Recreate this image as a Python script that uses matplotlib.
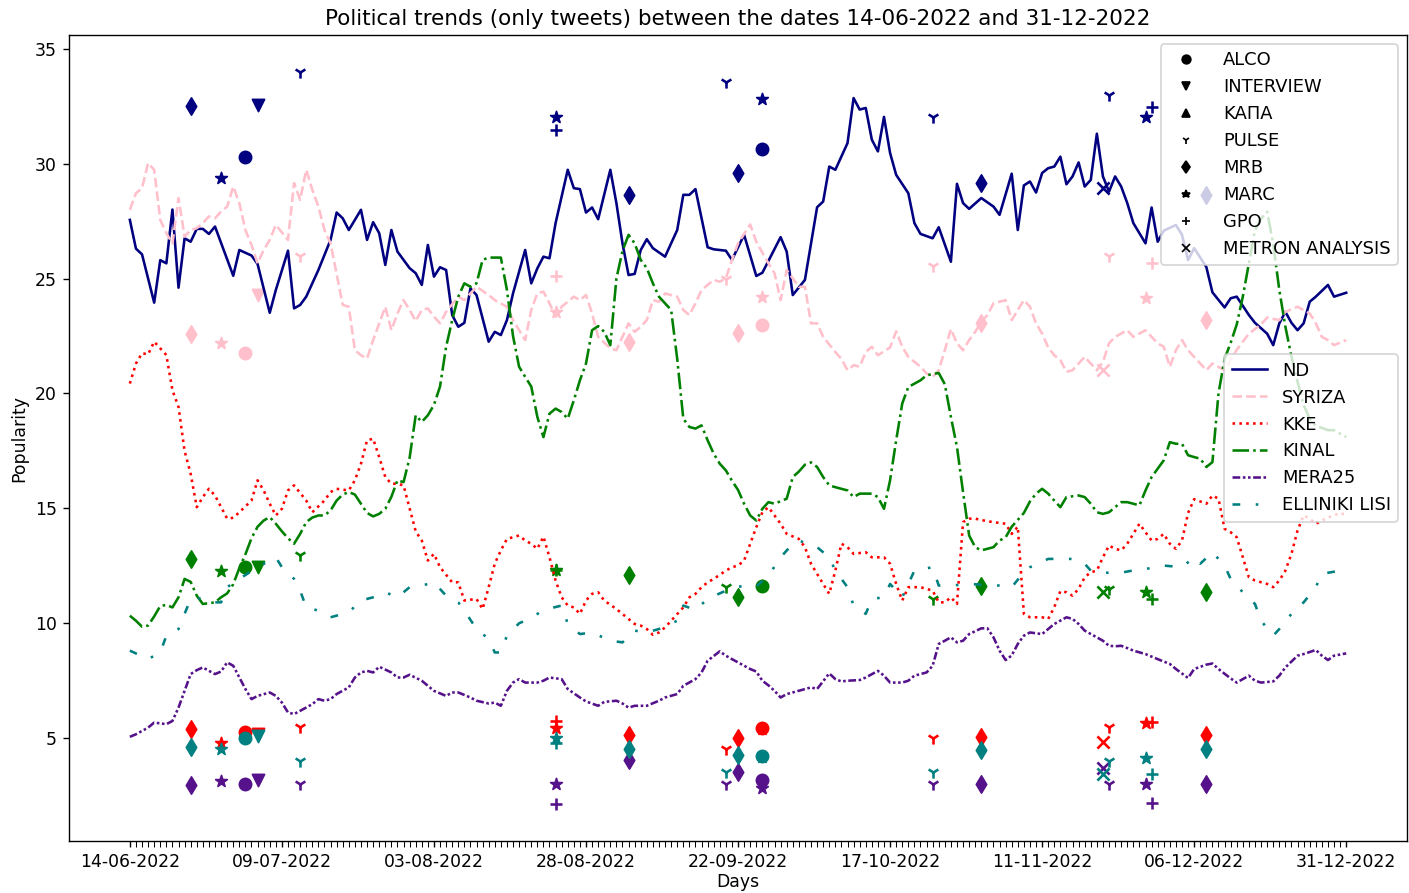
import matplotlib.pyplot as plt
import matplotlib.dates as mdates
from matplotlib.lines import Line2D
import pandas as pd

start = pd.Timestamp('2022-06-14')
end = pd.Timestamp('2022-12-31')

# Tweet-based popularity per party, x given as day offsets from 14-06-2022
nd_days = [0, 1, 2, 4, 5, 6, 7, 8, 9, 10, 11, 12, 13, 14, 17, 18, 20, 21, 23, 24,
           26, 27, 28, 29, 31, 33, 34, 35, 36, 37, 38, 39, 40, 41, 42, 43, 44, 46, 47, 48,
           49, 50, 51, 52, 53, 54, 55, 56, 57, 59, 60, 61, 62, 63, 65, 66, 67, 68, 69, 70,
           72, 73, 74, 75, 76, 77, 79, 80, 81, 82, 83, 84, 85, 86, 88, 90, 91, 92, 93, 95,
           96, 98, 99, 101, 103, 104, 107, 108, 109, 111, 112, 113, 114, 115, 116, 117, 118, 119, 120, 121,
           122, 123, 124, 125, 126, 128, 129, 130, 132, 133, 135, 136, 137, 138, 140, 142, 143, 145, 146, 147,
           148, 149, 150, 151, 152, 153, 154, 155, 156, 157, 158, 159, 160, 161, 162, 163, 164, 165, 167, 168,
           169, 170, 172, 173, 174, 175, 177, 178, 180, 181, 182, 184, 185, 187, 188, 189, 190, 191, 192, 193,
           194, 195, 197, 198, 200]
nd_vals = [27.55, 26.3, 26.05, 23.95, 25.8, 25.66, 28.0, 24.6, 26.75, 26.6,
           27.16, 27.16, 26.94, 27.26, 25.12, 26.24, 26.0, 25.63, 23.51, 24.5,
           26.21, 23.7, 23.85, 24.21, 25.37, 26.68, 27.87, 27.62, 27.11, 27.55,
           27.99, 26.68, 27.45, 26.97, 25.59, 27.11, 26.17, 25.45, 25.23, 24.72,
           26.46, 25.08, 25.49, 25.37, 23.41, 22.9, 23.07, 24.57, 24.28, 22.25,
           22.68, 22.54, 23.19, 24.35, 26.24, 24.79, 25.44, 25.95, 25.88, 27.41,
           29.73, 28.93, 28.89, 27.87, 28.09, 27.58, 29.73, 28.28, 26.53, 25.15,
           25.2, 26.24, 26.71, 26.32, 25.95, 27.11, 28.64, 28.64, 28.89, 26.36,
           26.27, 26.21, 25.81, 26.9, 25.11, 25.25, 26.8, 26.17, 24.28, 24.94,
           26.53, 28.1, 28.35, 29.87, 29.73, 30.31, 30.89, 32.85, 32.35, 32.42,
           31.04, 30.53, 32.03, 30.46, 29.51, 28.71, 27.41, 26.94, 26.75, 27.23,
           25.73, 29.12, 28.28, 28.03, 28.5, 28.13, 27.77, 29.56, 27.11, 29.05,
           29.22, 28.74, 29.59, 29.8, 29.87, 30.3, 29.1, 29.44, 30.05, 29.0,
           29.29, 31.3, 29.44, 28.78, 29.44, 29.0, 28.28, 27.41, 26.53, 28.09,
           26.6, 27.08, 27.33, 26.9, 25.8, 26.32, 25.5, 24.4, 23.74, 24.14,
           24.21, 23.41, 23.07, 22.6, 22.1, 23.05, 23.55, 23.07, 22.75, 23.05,
           23.99, 24.21, 24.72, 24.21, 24.38]

syriza_days = [0, 1, 2, 3, 4, 5, 6, 7, 8, 9, 10, 11, 12, 13, 14, 15, 16, 17, 18, 19,
               20, 21, 22, 23, 24, 26, 27, 28, 29, 30, 31, 32, 33, 35, 36, 37, 38, 39, 40, 42,
               43, 44, 45, 46, 47, 48, 49, 50, 51, 52, 54, 55, 57, 59, 60, 62, 63, 65, 66, 67,
               68, 69, 70, 71, 73, 74, 75, 76, 77, 79, 80, 82, 83, 84, 85, 86, 87, 88, 90, 91,
               92, 93, 94, 96, 97, 98, 99, 100, 102, 103, 105, 106, 107, 108, 110, 111, 112, 113, 114, 116,
               117, 118, 119, 120, 121, 122, 123, 125, 126, 127, 128, 130, 131, 132, 133, 134, 135, 136, 137, 138,
               139, 140, 141, 142, 144, 145, 146, 147, 148, 149, 150, 151, 152, 153, 154, 155, 156, 157, 159, 160,
               161, 162, 164, 165, 167, 168, 169, 170, 171, 172, 173, 174, 176, 177, 178, 180, 182, 184, 186, 187,
               189, 190, 192, 194, 195, 196, 197, 198, 200]
syriza_vals = [27.99, 28.71, 28.93, 30.02, 29.73, 27.55, 26.97, 26.53, 28.5, 26.82,
               27.11, 27.19, 27.41, 27.7, 27.62, 27.91, 28.13, 29.0, 28.28, 27.11,
               26.46, 25.66, 26.24, 26.68, 27.33, 26.68, 29.15, 28.42, 29.73, 28.86,
               28.13, 27.11, 26.53, 23.85, 23.77, 21.88, 21.66, 21.52, 22.32, 23.77,
               22.75, 23.48, 24.06, 23.63, 23.15, 23.63, 23.7, 23.34, 23.05, 23.55,
               24.21, 24.06, 24.64, 24.28, 24.06, 23.77, 23.19, 22.32, 23.63, 24.35,
               24.43, 23.92, 23.34, 23.77, 24.21, 24.06, 24.28, 23.48, 22.46, 21.96,
               21.88, 23.05, 22.68, 22.9, 23.19, 24.06, 23.99, 24.35, 24.21, 23.63,
               23.41, 23.92, 24.5, 24.94, 24.86, 25.01, 25.81, 26.53, 27.35, 26.6,
               25.66, 25.23, 24.06, 25.37, 24.64, 24.64, 23.05, 23.05, 22.46, 21.8,
               21.5, 21.01, 21.23, 21.16, 21.8, 22.03, 21.66, 22.0, 22.7, 22.03,
               21.59, 21.16, 20.87, 20.72, 21.01, 21.88, 22.8, 22.18, 21.88, 22.32,
               22.68, 23.12, 23.41, 23.92, 24.06, 23.19, 23.63, 24.06, 23.77, 23.05,
               22.6, 22.0, 21.66, 21.45, 20.94, 21.01, 21.3, 21.59, 21.01, 21.37,
               22.18, 22.46, 22.75, 22.46, 22.75, 22.46, 22.18, 22.03, 21.16, 21.88,
               22.32, 21.88, 21.3, 21.01, 21.3, 21.01, 21.9, 22.6, 23.0, 23.3,
               23.19, 23.55, 23.77, 23.48, 23.05, 22.46, 22.32, 22.1, 22.32]

kke_days = [0, 1, 2, 3, 4, 5, 6, 7, 8, 9, 10, 11, 12, 13, 14, 15, 16, 17, 18, 20,
            21, 22, 23, 24, 25, 26, 27, 29, 30, 32, 33, 34, 36, 37, 38, 39, 40, 41, 42, 43,
            44, 45, 46, 47, 48, 49, 50, 51, 53, 54, 55, 57, 58, 59, 60, 61, 62, 64, 65, 66,
            67, 68, 69, 70, 71, 72, 73, 74, 75, 76, 77, 78, 80, 82, 83, 84, 85, 86, 87, 88,
            89, 91, 92, 93, 94, 95, 96, 98, 99, 100, 101, 102, 103, 104, 105, 106, 107, 108, 110, 111,
            112, 114, 115, 116, 117, 118, 119, 121, 122, 124, 125, 126, 127, 128, 130, 132, 133, 134, 135, 136,
            137, 138, 139, 141, 142, 144, 145, 146, 147, 148, 150, 151, 152, 153, 154, 155, 156, 157, 158, 159,
            160, 161, 162, 163, 164, 166, 167, 168, 169, 170, 171, 172, 173, 174, 175, 176, 177, 178, 179, 180,
            181, 182, 183, 184, 185, 187, 188, 189, 190, 191, 192, 193, 194, 195, 197, 199, 200]
kke_vals = [20.43, 21.3, 21.75, 21.7, 22.25, 21.96, 21.67, 20.14, 19.41, 17.5,
            16.5, 15.05, 15.49, 15.85, 15.56, 15.05, 14.55, 14.59, 14.83, 15.34,
            16.22, 15.78, 15.2, 14.69, 14.98, 15.78, 16.0, 15.34, 14.83, 15.34,
            15.71, 15.85, 15.78, 16.22, 16.94, 17.96, 18.03, 17.23, 16.36, 16.07,
            16.07, 16.0, 15.0, 14.0, 13.6, 12.73, 13.02, 12.44, 11.78, 11.78,
            10.99, 11.06, 10.62, 11.57, 12.59, 13.17, 13.67, 13.82, 13.6, 13.46,
            13.24, 13.77, 12.87, 11.86, 11.13, 10.77, 10.69, 10.41, 10.99, 11.28,
            11.35, 10.99, 10.62, 10.19, 9.97, 9.9, 9.75, 9.5, 9.6, 9.82,
            10.11, 10.69, 11.13, 11.28, 11.57, 11.78, 11.93, 12.29, 12.44, 12.51,
            12.73, 13.46, 14.18, 14.83, 15.05, 14.69, 14.33, 13.89, 13.67, 13.31,
            12.59, 11.71, 11.28, 12.29, 13.46, 13.31, 13.02, 13.09, 12.87, 12.87,
            12.59, 11.71, 10.99, 11.57, 11.57, 11.42, 10.91, 10.91, 11.13, 10.84,
            14.4, 14.55, 14.55, 14.44, 14.4, 14.33, 13.89, 14.2, 10.41, 10.26,
            10.26, 10.19, 10.7, 11.4, 11.35, 11.2, 11.5, 12.0, 12.22, 12.29,
            12.87, 13.38, 13.24, 13.17, 13.46, 14.33, 13.96, 13.6, 13.67, 13.89,
            13.46, 13.24, 13.6, 14.8, 15.4, 15.3, 15.2, 15.56, 15.42, 14.11,
            13.96, 13.74, 12.87, 12.0, 11.86, 11.71, 11.57, 11.86, 12.29, 13.02,
            14.04, 14.69, 14.55, 14.33, 14.6, 14.8, 14.7]

kinal_days = list(range(0, 13)) + [14, 15, 16, 17, 18, 19, 20] + list(range(21, 107)) + \
    [108, 109, 110, 111, 112, 113, 114, 115, 116, 118, 119, 120, 122, 123,
     124, 125, 126, 127, 128, 130, 131, 133, 134, 135, 136, 137, 138, 139, 140, 142,
     143, 144, 145, 146, 147, 148, 149, 150, 151, 152, 153, 154, 156, 157, 158, 159, 160, 161,
     163, 164, 166, 167, 168, 170] + list(range(171, 201))
kinal_vals = [10.33, 10.11, 9.85, 9.9, 10.3, 10.75, 10.8, 10.69, 11.13, 11.93,
              11.8, 11.2, 10.84, 10.91, 11.13, 11.3, 11.7, 12.4, 13.0, 13.7,
              14.2, 14.47, 14.62, 14.33, 14.0, 13.7, 13.46, 13.89, 14.4, 14.6,
              14.69, 14.69, 14.91, 15.34, 15.6, 15.71, 15.6, 15.2, 14.8, 14.65,
              14.76, 14.98, 15.5, 16.22, 16.14, 17.2, 19.05, 18.76, 19.05, 19.5,
              20.3, 22.03, 23.19, 24.21, 24.79, 24.64, 24.79, 25.81, 25.91, 25.91,
              25.91, 24.5, 22.5, 21.16, 20.72, 20.3, 18.98, 18.1, 19.12, 19.34,
              19.19, 18.9, 19.7, 20.57, 21.3, 22.75, 22.93, 22.68, 22.1, 25.0,
              26.2, 26.9, 26.53, 25.81, 25.45, 24.79, 24.21, 23.92, 23.63, 21.5,
              18.9, 18.54, 18.47, 18.61, 17.96, 17.38, 16.94, 16.65, 16.2, 15.8,
              15.2, 14.69, 14.47, 14.98, 15.27, 15.2, 15.42, 16.36, 16.6, 16.9,
              17.0, 16.8, 16.36, 16.0, 15.92, 15.78, 15.49, 15.64, 15.64, 15.49,
              14.98, 16.22, 17.96, 19.56, 20.28, 20.57, 20.79, 20.89, 20.4, 18.98,
              17.67, 15.7, 13.82, 13.31, 13.17, 13.31, 13.6, 13.74, 14.2, 14.5,
              14.8, 15.3, 15.64, 15.85, 15.64, 15.34, 15.05, 15.49, 15.56, 15.49,
              15.2, 14.83, 14.76, 14.83, 15.27, 15.27, 15.13, 15.78, 16.36, 17.09,
              17.88, 17.81, 17.81, 17.31, 17.23, 17.16, 16.8, 17.01, 20.0, 21.5,
              22.2, 23.0, 24.21, 25.66, 27.11, 27.6, 27.91, 26.5, 24.5, 22.9,
              21.6, 20.5, 19.5, 18.9, 18.6, 18.5, 18.4, 18.4, 18.25, 18.1]

mera25_days = [0, 1, 3, 4, 6, 7, 8, 9, 10, 11, 12, 13, 14, 15, 16, 17, 18, 19, 20, 21,
               23, 24, 25, 26, 27, 28, 30, 31, 32, 33, 34, 36, 37, 38, 39, 40, 41, 43, 44, 45,
               46, 48, 50, 52, 53, 54, 56, 57, 59, 60, 61, 62, 63, 64, 65, 67, 68, 69, 71, 72,
               74, 75, 77, 78, 80, 81, 82, 83, 85, 87, 88, 90, 91, 93, 94, 95, 97, 98, 99, 101,
               102, 103, 104, 105, 106, 107, 108, 109, 111, 112, 113, 115, 116, 117, 118, 120, 121, 123, 124, 125,
               127, 128, 129, 131, 132, 133, 134, 135, 136, 137, 138, 140, 141, 142, 143, 144, 145, 146, 147, 148,
               150, 151, 152, 154, 155, 156, 157, 159, 160, 161, 162, 163, 164, 165, 167, 168, 169, 171, 172, 174,
               175, 177, 178, 179, 181, 182, 184, 185, 186, 188, 189, 190, 192, 193, 195, 196, 197, 198, 200]
mera25_vals = [5.06, 5.17, 5.46, 5.68, 5.61, 5.75, 6.33, 7.06, 7.79, 7.96,
               8.08, 7.93, 7.79, 7.9, 8.3, 8.15, 7.64, 7.14, 6.7, 6.84,
               6.99, 6.84, 6.55, 6.12, 6.05, 6.19, 6.48, 6.7, 6.63, 6.7,
               6.92, 7.21, 7.64, 7.86, 7.93, 7.86, 8.11, 7.86, 7.64, 7.64,
               7.76, 7.5, 7.06, 6.84, 6.99, 6.99, 6.77, 6.63, 6.51, 6.55,
               6.41, 7.06, 7.42, 7.57, 7.42, 7.42, 7.5, 7.64, 7.57, 7.14,
               6.77, 6.6, 6.41, 6.58, 6.63, 6.51, 6.33, 6.41, 6.41, 6.63,
               6.77, 6.92, 7.28, 7.57, 7.86, 8.37, 8.78, 8.59, 8.44, 8.15,
               8.01, 7.9, 7.5, 7.3, 7.06, 6.77, 6.92, 6.99, 7.14, 7.21,
               7.14, 7.82, 7.57, 7.47, 7.5, 7.53, 7.64, 7.93, 7.72, 7.42,
               7.42, 7.5, 7.72, 7.86, 8.15, 9.1, 9.24, 9.39, 9.17, 9.24,
               9.53, 9.78, 9.78, 9.39, 8.81, 8.4, 8.6, 9.1, 9.46, 9.6,
               9.53, 9.75, 9.97, 10.26, 10.19, 9.97, 9.68, 9.39, 9.24, 9.02,
               9.0, 9.02, 8.92, 8.81, 8.66, 8.55, 8.44, 8.23, 8.01, 7.62,
               8.01, 8.2, 8.25, 8.01, 7.6, 7.42, 7.72, 7.5, 7.42, 7.47,
               7.72, 8.08, 8.59, 8.66, 8.84, 8.59, 8.4, 8.59, 8.69]

el_days = [0, 3, 5, 6, 8, 9, 10, 11, 13, 15, 16, 18, 21, 24, 25, 27, 28, 29, 31, 33,
           36, 38, 40, 42, 44, 46, 48, 50, 52, 54, 55, 57, 59, 60, 61, 62, 64, 66, 68, 71,
           72, 74, 76, 79, 81, 83, 85, 87, 90, 91, 93, 95, 98, 100, 103, 105, 107, 109, 110, 113,
           115, 116, 118, 119, 121, 122, 124, 125, 127, 129, 132, 133, 135, 138, 143, 145, 147, 148, 151, 153,
           155, 157, 158, 160, 163, 165, 167, 170, 173, 175, 176, 178, 180, 181, 183, 185, 186, 188, 189, 191,
           193, 195, 196, 199, 200]
el_vals = [8.81, 8.44, 8.73, 9.46, 9.75, 10.41, 11.06, 11.13, 10.91, 10.91,
           11.57, 11.93, 12.44, 12.87, 12.44, 11.93, 11.42, 10.69, 10.55, 10.26,
           10.48, 10.99, 11.13, 11.35, 11.13, 11.57, 11.64, 11.78, 11.2, 10.91,
           10.55, 9.75, 9.32, 8.73, 8.73, 9.46, 10.0, 10.23, 10.58, 10.77,
           9.97, 9.53, 9.6, 9.24, 9.17, 9.68, 9.6, 9.75, 10.11, 10.77,
           10.58, 11.06, 11.42, 11.6, 11.6, 12.07, 12.87, 13.46, 13.6, 13.31,
           12.87, 12.29, 11.57, 10.77, 10.41, 11.06, 11.13, 11.71, 11.13, 12.29,
           12.44, 11.64, 11.64, 11.71, 11.64, 11.57, 12.22, 12.44, 12.8, 12.8,
           12.8, 12.59, 12.29, 12.2, 12.2, 12.3, 12.36, 12.51, 12.44, 12.87,
           12.59, 13.09, 12.51, 11.93, 11.35, 10.84, 10.11, 9.46, 9.75, 10.41,
           10.91, 11.57, 12.15, 12.29, 12.3]

# Opinion polls (day offset, firm, result per party)
poll_firm = ['MRB', 'MARC', 'ALCO', 'INTERVIEW', 'PULSE', 'MARC', 'GPO', 'MRB', 'PULSE', 'MRB',
             'ALCO', 'MARC', 'PULSE', 'MRB', 'METRON ANALYSIS', 'PULSE', 'MARC', 'GPO', 'MRB']
poll_day = [10, 15, 19, 21, 28, 70, 70, 82, 98, 100, 104, 104, 132, 140, 160, 161, 167, 168, 177]
poll_nd = [32.52, 29.37, 30.27, 32.56, 34.0, 32.03, 31.44, 28.64, 33.55, 29.61,
           30.64, 32.82, 32.03, 29.15, 28.93, 33.0, 32.03, 32.46, 28.64]
poll_syriza = [22.58, 22.18, 21.77, 24.28, 26.0, 23.55, 25.1, 22.25, 25.0, 22.64,
               22.97, 24.2, 25.55, 23.07, 21.02, 25.98, 24.14, 25.66, 23.19]
poll_kke = [5.42, 4.81, 5.29, 5.17, 5.49, 5.44, 5.75, 5.13, 4.52, 5.03,
            5.44, 5.4, 5.03, 5.06, 4.85, 5.49, 5.68, 5.72, 5.14]
poll_kinal = [12.8, 12.26, 12.44, 12.47, 12.99, 12.32, 12.3, 12.12, 11.56, 11.13,
              11.6, 11.6, 11.06, 11.6, 11.35, 11.5, 11.35, 11.06, 11.35]
poll_mera25 = [2.95, 3.14, 3.02, 3.17, 2.99, 3.02, 2.12, 4.05, 3.02, 3.53,
               3.17, 2.85, 3.02, 3.02, 3.69, 2.99, 3.02, 2.19, 3.0]
poll_el = [4.62, 4.52, 5.03, 5.1, 4.01, 5.03, 4.81, 4.52, 3.54, 4.26,
           4.23, 4.2, 3.54, 4.48, 3.43, 4.01, 4.15, 3.46, 4.52]

firms = ['ALCO', 'INTERVIEW', 'ΚΑΠΑ', 'PULSE', 'MRB', 'MARC', 'GPO', 'METRON ANALYSIS']
firm_markers = ['o', 'v', '^', '1', 'd', '*', '+', 'x']


def to_dates(days):
    return start + pd.to_timedelta(days, unit='D')


fig, ax = plt.subplots(figsize=(1409 / 124, 893 / 124), dpi=124)
fig.subplots_adjust(left=0.049, right=0.9986, bottom=0.0582, top=0.9608)

parties = [
    ('ND', nd_days, nd_vals, poll_nd, 'navy', '-'),
    ('SYRIZA', syriza_days, syriza_vals, poll_syriza, 'pink', '--'),
    ('KKE', kke_days, kke_vals, poll_kke, 'red', ':'),
    ('KINAL', kinal_days, kinal_vals, poll_kinal, 'green', '-.'),
    ('MERA25', mera25_days, mera25_vals, poll_mera25, '#55128a', (0, (3, 1, 1, 1, 1, 1))),
    ('ELLINIKI LISI', el_days, el_vals, poll_el, 'teal', (0, (3, 6, 1, 6))),
]

line_handles = []
for name, days, vals, polls, color, ls in parties:
    h, = ax.plot(to_dates(days), vals, color=color, linestyle=ls, label=name)
    line_handles.append(h)
    for firm, marker in zip(firms, firm_markers):
        idx = [i for i, f in enumerate(poll_firm) if f == firm]
        if not idx:
            continue
        ax.scatter(to_dates([poll_day[i] for i in idx]), [polls[i] for i in idx],
                   marker=marker, color=color, s=50)

all_days = pd.date_range(start, end, freq='D').to_pydatetime()
ax.set_xticks(mdates.date2num(all_days[::25]))
ax.set_xticks(mdates.date2num(all_days), minor=True)
ax.xaxis.set_major_formatter(mdates.DateFormatter('%d-%m-%Y'))
ax.tick_params(axis='x', which='minor', length=3.5)

ax.set_title('Political trends (only tweets) between the dates 14-06-2022 and 31-12-2022',
             fontsize=12.5)
ax.set_xlabel('Days', labelpad=1)
ax.set_ylabel('Popularity')

firm_handles = [Line2D([], [], marker=m, color='black', linestyle='None', markersize=5, label=f)
                for f, m in zip(firms, firm_markers)]
leg1 = ax.legend(handles=firm_handles, loc='upper right', handletextpad=1.1, fontsize=10.4)
ax.add_artist(leg1)
ax.legend(handles=line_handles, loc='center right', fontsize=10.4)

plt.savefig('out.png')
